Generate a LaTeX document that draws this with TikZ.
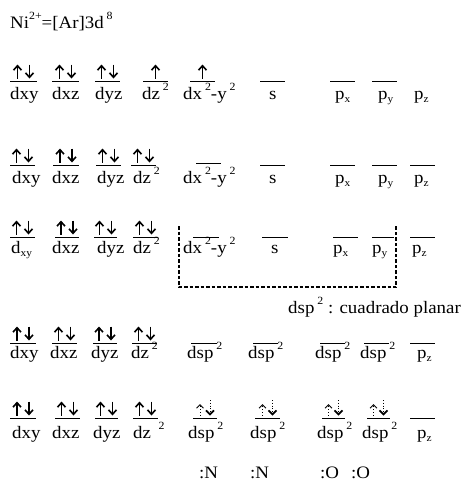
\documentclass[tikz,border=0pt]{standalone}
\usepackage{fontspec}
\setmainfont[FakeStretch=1.08]{Liberation Serif}
\usetikzlibrary{arrows.meta}
\newcommand\spr[1]{\,\raisebox{0.48em}{\fontsize{11}{11}\selectfont #1}}
\newcommand\sbs[1]{\raisebox{-0.2em}{\fontsize{10.5}{10.5}\selectfont #1}}
\newcommand\orbit[7]{%
  \coordinate (#1a) at (#2,#4);
  \coordinate (#1b) at (#3,#4);
  \coordinate (#1m) at ({(#2+#3)/2},#4);
  \draw[orb] (#1a) -- (#1b);
  \node[lbl] (#1) at (#5,#6) {#7};}
\newcommand\pairel[1]{%
  \draw[el] ([xshift=-6pt,yshift=2.5pt]#1m) -- ([xshift=-6pt,yshift=16.5pt]#1m);
  \draw[el] ([xshift=6pt,yshift=16.5pt]#1m) -- ([xshift=6pt,yshift=2.5pt]#1m);}
\newcommand\singleel[1]{%
  \draw[el] ([yshift=2.5pt]#1m) -- ([yshift=16.5pt]#1m);}
\newcommand\pairlig[1]{%
  \draw[ligup] ([xshift=-5pt,yshift=2.5pt]#1m) -- ([xshift=-5pt,yshift=14pt]#1m);
  \draw[ligdn] ([xshift=5pt,yshift=18pt]#1m) -- ([xshift=5pt,yshift=2.5pt]#1m);}
\begin{document}
\begin{tikzpicture}[x=1pt,y=-1pt,
  lbl/.style={anchor=base west, inner sep=0pt, font=\fontsize{17.5}{17.5}\selectfont},
  orb/.style={line width=0.9pt},
  el/.style={line width=1.6pt, -{Straight Barb[length=4.5pt,width=8pt]}},
  ligup/.style={line width=0.8pt, dotted, -{Straight Barb[length=3.5pt,width=7pt,line width=1pt]}},
  ligdn/.style={line width=0.8pt, dotted, -{Straight Barb[length=4pt,width=8pt,line width=1.6pt]}},
  box/.style={line width=1.2pt, dash pattern=on 3.5pt off 2pt}]
\useasboundingbox (0,0) rectangle (464,485);
\node[lbl] (title) at (10,28) {Ni\raisebox{0.5em}{\fontsize{11}{11}\selectfont 2+}=[Ar]3d\spr{8}};
% row 1
\orbit{r1a}{10}{37}{81}{10}{99}{dxy}
\orbit{r1b}{52}{79}{81}{52}{99}{dxz}
\orbit{r1c}{95}{120}{81}{95}{99}{dyz}
\orbit{r1d}{143}{168}{81}{142}{99}{dz\spr{2}}
\orbit{r1e}{190}{215}{81}{183}{99}{dx\spr{2}-y\spr{2}}
\orbit{r1s}{260}{285}{81}{269}{99}{s}
\orbit{r1x}{330}{355}{81}{335}{99}{p\sbs{x}}
\orbit{r1y}{372}{397}{81}{378}{99}{p\sbs{y}}
\node[lbl] (r1z) at (414,99) {p\sbs{z}};
\pairel{r1a}\pairel{r1b}\pairel{r1c}\singleel{r1d}\singleel{r1e}
% row 2
\orbit{r2a}{10}{35}{165}{12}{183}{dxy}
\orbit{r2b}{53}{79}{165}{52}{183}{dxz}
\orbit{r2c}{96}{121}{165}{97}{183}{dyz}
\orbit{r2d}{131}{156}{165}{133}{183}{dz\spr{2}}
\orbit{r2e}{196}{221}{163}{183}{183}{dx\spr{2}-y\spr{2}}
\orbit{r2s}{260}{285}{165}{269}{183}{s}
\orbit{r2x}{330}{355}{165}{335}{183}{p\sbs{x}}
\orbit{r2y}{372}{397}{165}{378}{183}{p\sbs{y}}
\orbit{r2z}{410}{435}{165}{414}{183}{p\sbs{z}}
\pairel{r2a}\pairel{r2b}\pairel{r2c}\pairel{r2d}
% row 3
\orbit{r3a}{10}{35}{237}{11}{253}{d\sbs{xy}}
\orbit{r3b}{55}{79}{237}{52}{253}{dxz}
\orbit{r3c}{94}{117}{237}{97}{253}{dyz}
\orbit{r3d}{133}{158}{237}{133}{253}{dz\spr{2}}
\orbit{r3e}{193}{219}{237}{183}{253}{dx\spr{2}-y\spr{2}}
\orbit{r3s}{262}{288}{237}{271}{253}{s}
\orbit{r3x}{333}{358}{237}{333}{253}{p\sbs{x}}
\orbit{r3y}{372}{394}{237}{372}{253}{p\sbs{y}}
\orbit{r3z}{410}{435}{237}{412}{253}{p\sbs{z}}
\pairel{r3a}\pairel{r3b}\pairel{r3c}\pairel{r3d}
\coordinate (bx1) at (179,226);
\coordinate (bx2) at (179,287);
\coordinate (bx3) at (396,287);
\coordinate (bx4) at (396,226);
\draw[box] (bx1) -- (bx2) -- (bx3) -- (bx4);
\node[lbl] (hyb) at (288,313) {dsp\spr{2} : cuadrado planar};
% row 4
\orbit{r4a}{10}{36}{343}{10}{358}{dxy}
\orbit{r4b}{52}{77}{343}{50}{358}{dxz}
\orbit{r4c}{93}{117}{343}{91}{358}{dyz}
\orbit{r4d}{132}{157}{343}{131}{358}{dz\spr{2}}
\orbit{r4e}{191}{217}{343}{187}{358}{dsp\spr{2}}
\orbit{r4f}{253}{278}{343}{248}{358}{dsp\spr{2}}
\orbit{r4g}{320}{345}{343}{315}{358}{dsp\spr{2}}
\orbit{r4h}{364}{389}{343}{360}{358}{dsp\spr{2}}
\orbit{r4z}{410}{435}{343}{417}{358}{p\sbs{z}}
\pairel{r4a}\pairel{r4b}\pairel{r4c}\pairel{r4d}
% row 5
\orbit{r5a}{10}{36}{418}{12}{438}{dxy}
\orbit{r5b}{55}{80}{418}{52}{438}{dxz}
\orbit{r5c}{95}{118}{418}{93}{438}{dyz}
\orbit{r5d}{133}{158}{418}{133}{438}{dz \spr{2}}
\orbit{r5e}{193}{217}{418}{188}{438}{dsp\spr{2}}
\orbit{r5f}{255}{280}{418}{250}{438}{dsp\spr{2}}
\orbit{r5g}{322}{345}{418}{317}{438}{dsp\spr{2}}
\orbit{r5h}{367}{390}{418}{362}{438}{dsp\spr{2}}
\orbit{r5z}{410}{435}{418}{417}{438}{p\sbs{z}}
\pairel{r5a}\pairel{r5b}\pairel{r5c}\pairel{r5d}
\pairlig{r5e}\pairlig{r5f}\pairlig{r5g}\pairlig{r5h}
% ligands
\node[lbl] (n1) at (199,478) {:N};
\node[lbl] (n2) at (250,478) {:N};
\node[lbl] (o1) at (320,478) {:O};
\node[lbl] (o2) at (351,478) {:O};
\end{tikzpicture}
\end{document}
